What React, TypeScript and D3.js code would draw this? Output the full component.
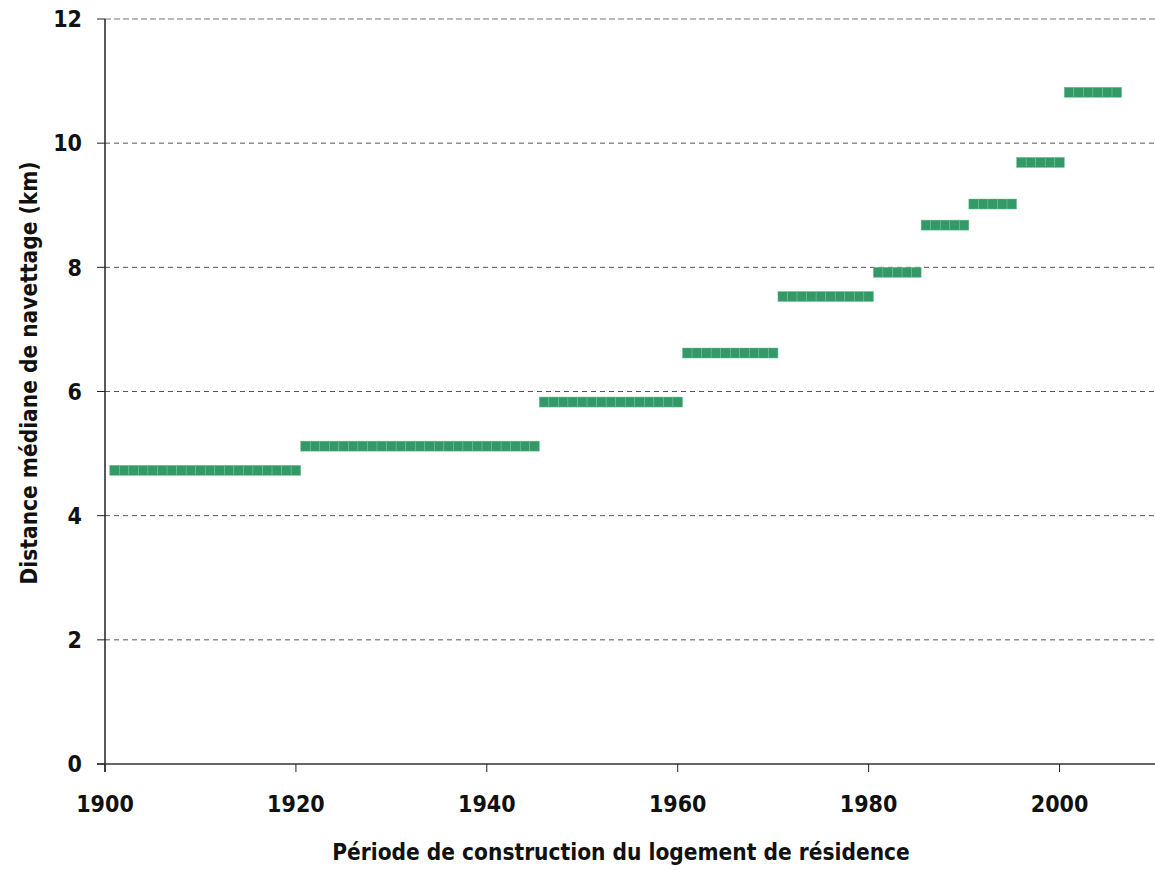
import * as d3 from "d3";

// construction periods (first and last year) and median commute distance (km)
const periodStart = [1901, 1921, 1946, 1961, 1971, 1981, 1986, 1991, 1996, 2001];
const periodEnd = [1920, 1945, 1960, 1970, 1980, 1985, 1990, 1995, 2000, 2006];
const medianKm = [4.73, 5.12, 5.83, 6.62, 7.53, 7.92, 8.68, 9.02, 9.69, 10.82];

const xTicks = [1900, 1920, 1940, 1960, 1980, 2000];
const yTicks = [0, 2, 4, 6, 8, 10, 12];

const WIDTH = 1155;
const HEIGHT = 870;
const LEFT = 105;
const RIGHT = 1155;
const TOP = 19;
const BOTTOM = 764;
const FONT = "'DejaVu Sans Condensed', 'DejaVu Sans', sans-serif";

const App = () => {
  const x = d3.scaleLinear().domain([1900, 2010]).range([LEFT, RIGHT]);
  const y = d3.scaleLinear().domain([0, 12]).range([BOTTOM, TOP]);

  // one marker per year of each period
  const points = periodStart.flatMap((s, i) =>
    d3.range(s, periodEnd[i] + 1).map((yr) => ({ year: yr, value: medianKm[i] }))
  );
  const step = x(1901) - x(1900);

  return (
    <svg
      width={WIDTH}
      height={HEIGHT}
      style={{ position: "absolute", left: 0, top: 0, background: "#fff" }}
    >
      {/* gridlines */}
      {yTicks.filter((t) => t > 0).map((t) => (
        <line
          key={t}
          x1={LEFT}
          x2={RIGHT}
          y1={y(t)}
          y2={y(t)}
          stroke="#555"
          strokeWidth={1}
          strokeDasharray={t === 12 ? "6,3" : "5,4"}
          opacity={t === 12 ? 0.8 : 1}
        />
      ))}

      {/* markers */}
      {points.map((p, i) => (
        <rect
          key={i}
          x={x(p.year) - step / 2}
          y={y(p.value) - 5}
          width={step}
          height={10}
          fill="#339966"
          stroke="#6fbf95"
          strokeWidth={0.5}
        />
      ))}

      {/* axes */}
      <line x1={LEFT} x2={LEFT} y1={TOP} y2={BOTTOM + 8} stroke="#222" strokeWidth={1.5} />
      <line x1={LEFT - 8} x2={RIGHT} y1={BOTTOM} y2={BOTTOM} stroke="#333" strokeWidth={1.5} />
      {yTicks.map((t) => (
        <g key={t}>
          <line x1={LEFT - 8} x2={LEFT} y1={y(t)} y2={y(t)} stroke="#222" strokeWidth={1} />
          <text
            x={82}
            y={y(t)}
            dy="0.36em"
            textAnchor="end"
            fontFamily={FONT}
            fontWeight="bold"
            fontSize={23}
            fill="#111"
          >
            {t}
          </text>
        </g>
      ))}
      {xTicks.map((t) => (
        <g key={t}>
          <line x1={x(t)} x2={x(t)} y1={BOTTOM} y2={BOTTOM + 8} stroke="#222" strokeWidth={1} />
          <text
            x={x(t)}
            y={812}
            textAnchor="middle"
            fontFamily={FONT}
            fontWeight="bold"
            fontSize={23}
            fill="#111"
          >
            {t}
          </text>
        </g>
      ))}

      {/* axis titles */}
      <text
        x={621}
        y={860}
        textAnchor="middle"
        fontFamily={FONT}
        fontWeight="bold"
        fontSize={22.5}
        fill="#111"
      >
        Période de construction du logement de résidence
      </text>
      <text
        transform={`translate(37, 373) rotate(-90)`}
        textAnchor="middle"
        fontFamily={FONT}
        fontWeight="bold"
        fontSize={22.5}
        fill="#111"
      >
        Distance médiane de navettage (km)
      </text>
    </svg>
  );
};

export default App;
